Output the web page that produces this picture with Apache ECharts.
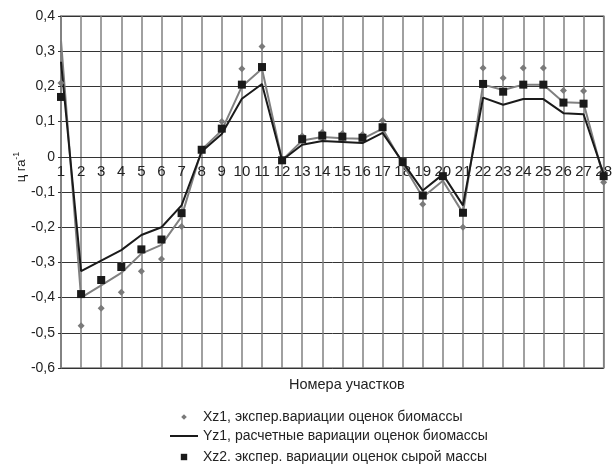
<!DOCTYPE html>
<html>
<head>
<meta charset="utf-8">
<script src="https://cdn.jsdelivr.net/npm/echarts@6/dist/echarts.min.js"></script>
<style>
  html, body { margin: 0; padding: 0; background: #fff; }
  #chart { width: 615px; height: 466px; }
</style>
</head>
<body>
<div id="chart"></div>
<script>
// номера участков
const plots = ['1','2','3','4','5','6','7','8','9','10','11','12','13','14','15','16','17','18','19','20','21','22','23','24','25','26','27','28']
// Xz1 — экспер. вариации оценок биомассы (ромбы)
const xz1 = [0.21, -0.48, -0.43, -0.385, -0.325, -0.29, -0.198, 0.02, 0.10, 0.25, 0.313, -0.01, 0.059, 0.07, 0.066, 0.063, 0.103, -0.02, -0.135, -0.06, -0.2, 0.252, 0.224, 0.252, 0.252, 0.188, 0.187, -0.072]
// Yz1 — расчетные вариации оценок биомассы (черная линия)
const yz1 = [0.27, -0.325, -0.295, -0.265, -0.222, -0.2, -0.138, 0.015, 0.065, 0.165, 0.207, -0.01, 0.034, 0.045, 0.042, 0.039, 0.068, -0.015, -0.096, -0.05, -0.138, 0.168, 0.148, 0.164, 0.164, 0.124, 0.121, -0.05]
// Xz2 — экспер. вариации оценок сырой массы (квадраты)
const xz2 = [0.17, -0.39, -0.35, -0.313, -0.263, -0.235, -0.16, 0.02, 0.08, 0.205, 0.255, -0.01, 0.05, 0.06, 0.057, 0.054, 0.084, -0.015, -0.11, -0.055, -0.159, 0.207, 0.185, 0.205, 0.205, 0.154, 0.151, -0.055]
// Yz2 — расчетные вариации оценок сырой массы (серая линия)
const yz2 = [0.33, -0.4, -0.365, -0.33, -0.275, -0.25, -0.17, 0.02, 0.075, 0.2, 0.25, -0.01, 0.046, 0.056, 0.053, 0.051, 0.08, -0.02, -0.115, -0.068, -0.16, 0.205, 0.19, 0.205, 0.205, 0.155, 0.153, -0.06]

const names = [
  'Xz1, экспер.вариации оценок биомассы',
  'Yz1, расчетные вариации оценок биомассы',
  'Xz2. экспер. вариации оценок сырой массы',
  'Yz2, расчетные вариации оценок сырой массы'
]

const FONT = '"Liberation Sans", Arial, sans-serif'

// размеры области построения
const G_TOP = 16, G_BOTTOM = 98, H = 466
const Y_MIN = -0.6, Y_MAX = 0.4
const plotH = H - G_TOP - G_BOTTOM
// сдвиг оси X вверх, чтобы подписи шли по линии нуля
const zeroOffset = -plotH * (0 - Y_MIN) / (Y_MAX - Y_MIN)

const chart = echarts.init(document.getElementById('chart'))

function legendRow(item, top, iconH) {
  return {
    data: [item],
    orient: 'vertical',
    left: 164,
    top: top,
    itemWidth: 28,
    itemHeight: iconH,
    selectedMode: false,
    textStyle: { fontSize: 14, color: '#222', fontFamily: FONT }
  }
}

chart.setOption({
  animation: false,
  textStyle: { fontFamily: FONT },
  grid: {
    left: 61, right: 7, top: G_TOP, bottom: G_BOTTOM,
    show: true, borderColor: '#808080', borderWidth: 1.5
  },
  legend: [
    legendRow({ name: names[0] }, 405, 7),
    legendRow({ name: names[1], itemStyle: { opacity: 0 } }, 424, 12),
    legendRow({ name: names[2] }, 445, 8)
  ],
  graphic: [
    {
      type: 'text',
      left: 289, top: 377,
      style: { text: 'Номера участков', fontSize: 14.5, fill: '#222', fontFamily: FONT }
    },
    {
      type: 'text',
      x: 21, y: 167,
      rotation: Math.PI / 2,
      style: {
        text: 'ц га{s|-1}',
        fontSize: 13, fill: '#222', fontFamily: FONT,
        align: 'center', verticalAlign: 'middle',
        rich: { s: { fontSize: 9, verticalAlign: 'top', padding: [0, 0, 8, 0], fill: '#222' } }
      }
    }
  ],
  xAxis: {
    type: 'category',
    data: plots,
    boundaryGap: false,
    offset: zeroOffset,
    axisLine: { onZero: false, lineStyle: { color: '#333', width: 1 } },
    axisTick: { show: false },
    axisLabel: { interval: 0, margin: 8, fontSize: 15, color: '#222', fontFamily: FONT },
    splitLine: { show: true, interval: 0, lineStyle: { color: '#808080', width: 1.5 } }
  },
  yAxis: {
    type: 'value',
    min: Y_MIN,
    max: Y_MAX,
    interval: 0.1,
    axisLine: { show: true, lineStyle: { color: '#808080', width: 1.5 } },
    axisTick: { show: true, length: 3, lineStyle: { color: '#333' } },
    axisLabel: {
      fontSize: 14, color: '#222', margin: 6, fontFamily: FONT,
      formatter: v => Math.abs(v) < 1e-9 ? '0' : v.toFixed(1).replace('.', ',')
    },
    splitLine: { show: true, lineStyle: { color: '#333', width: 1 } }
  },
  series: [
    {
      name: names[3],
      type: 'line',
      data: yz2,
      symbol: 'none',
      lineStyle: { color: '#808080', width: 2 },
      itemStyle: { color: '#808080' },
      z: 2
    },
    {
      name: names[1],
      type: 'line',
      data: yz1,
      symbol: 'none',
      lineStyle: { color: '#1a1a1a', width: 2 },
      itemStyle: { color: '#1a1a1a' },
      z: 3
    },
    {
      name: names[0],
      type: 'line',
      data: xz1,
      symbol: 'diamond',
      symbolSize: 7,
      lineStyle: { opacity: 0 },
      itemStyle: { color: '#7a7a7a' },
      z: 4
    },
    {
      name: names[2],
      type: 'line',
      data: xz2,
      symbol: 'rect',
      symbolSize: 8,
      lineStyle: { opacity: 0 },
      itemStyle: { color: '#1a1a1a' },
      z: 5
    }
  ]
})
</script>
</body>
</html>
